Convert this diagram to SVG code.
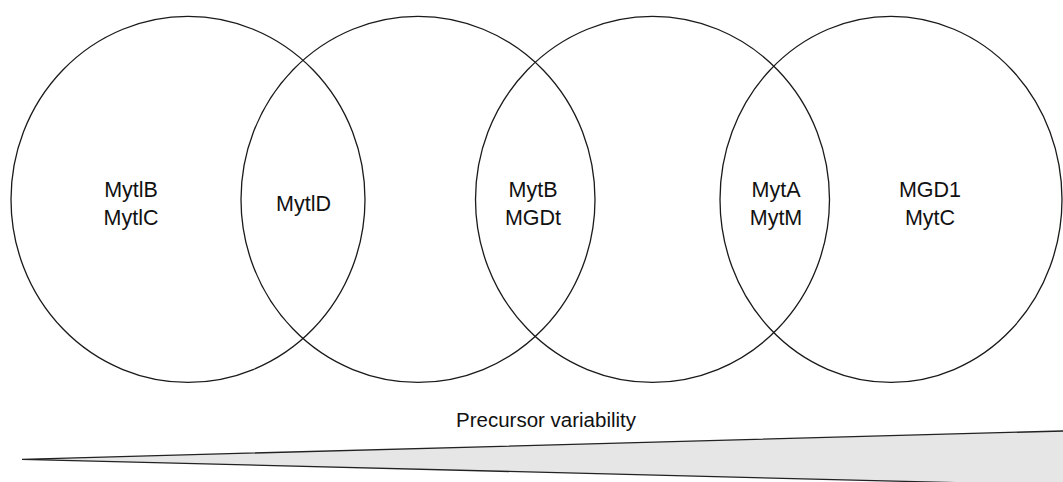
<svg xmlns="http://www.w3.org/2000/svg" width="1063" height="482" viewBox="0 0 1063 482">
  <style>
    .set { fill: none; stroke: #1a1a1a; stroke-width: 1.3; }
    .lbl { font-family: "Liberation Sans", Arial, sans-serif; font-size: 21.5px; fill: #111; text-anchor: middle; }
    .cap { font-family: "Liberation Sans", Arial, sans-serif; font-size: 20.5px; fill: #111; text-anchor: middle; }
    .wedge { fill: #e6e6e6; stroke: #222; stroke-width: 1.3; stroke-linejoin: miter; }
  </style>
  <rect width="1063" height="482" fill="#ffffff"/>
  <g id="set1">
    <ellipse class="set" cx="188" cy="199.4" rx="177" ry="183"/>
  </g>
  <g id="set2">
    <ellipse class="set" cx="418" cy="199.4" rx="177" ry="183"/>
  </g>
  <g id="set3">
    <ellipse class="set" cx="652.5" cy="199.4" rx="177" ry="183"/>
  </g>
  <g id="set4">
    <ellipse class="set" cx="891" cy="199.4" rx="171" ry="183"/>
  </g>
  <g id="label-mytlB-mytlC">
    <text class="lbl" x="131" y="197">MytlB</text>
    <text class="lbl" x="131" y="224.5">MytlC</text>
  </g>
  <g id="label-mytlD">
    <text class="lbl" x="303.5" y="210.5">MytlD</text>
  </g>
  <g id="label-mytB-mgdt">
    <text class="lbl" x="533" y="197">MytB</text>
    <text class="lbl" x="533" y="224.5">MGDt</text>
  </g>
  <g id="label-mytA-mytM">
    <text class="lbl" x="776" y="197">MytA</text>
    <text class="lbl" x="776" y="224.5">MytM</text>
  </g>
  <g id="label-mgd1-mytC">
    <text class="lbl" x="930" y="197">MGD1</text>
    <text class="lbl" x="930" y="224.5">MytC</text>
  </g>
  <g id="connectors"></g>
  <g id="variability">
    <text class="cap" x="546" y="427">Precursor variability</text>
    <polygon class="wedge" points="22,459.3 1070,430.8 1070,485.5"/>
  </g>
</svg>
